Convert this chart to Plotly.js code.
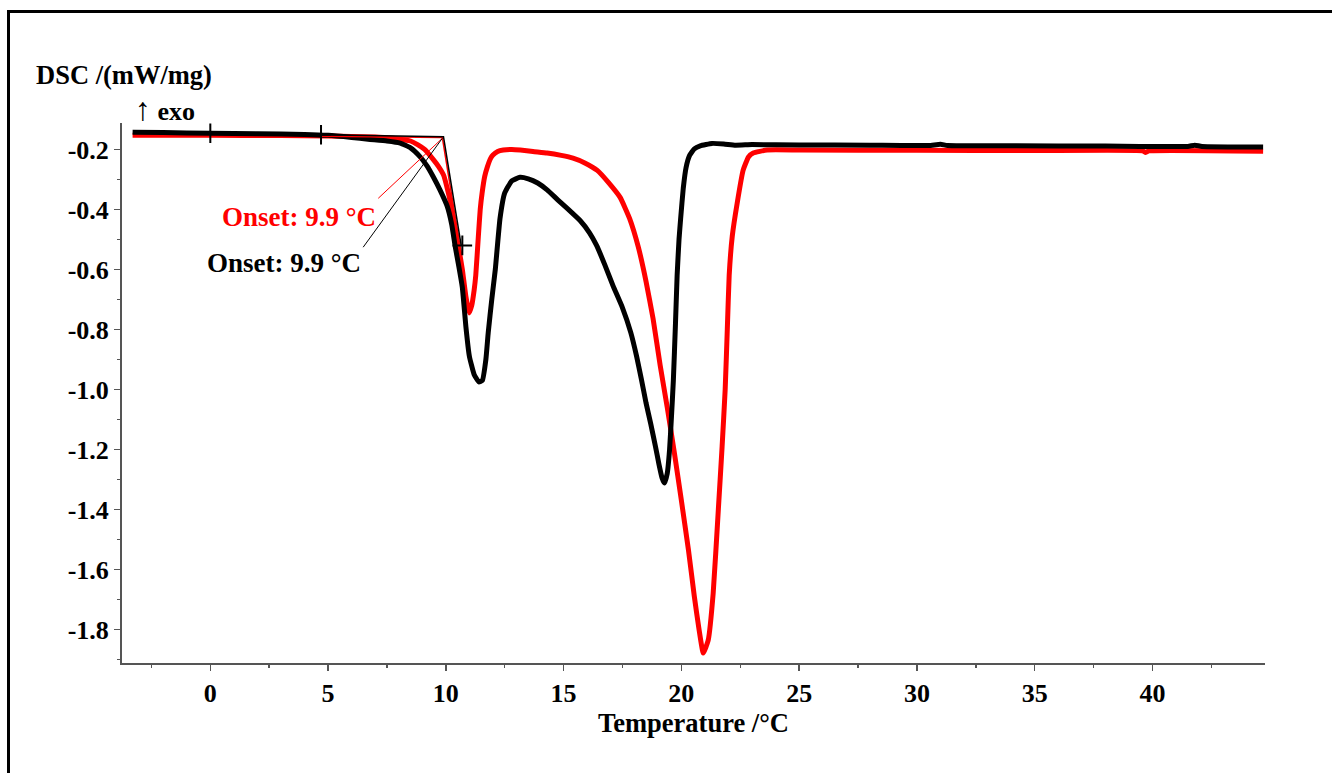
<!DOCTYPE html>
<html>
<head>
<meta charset="utf-8">
<script src="https://cdn.plot.ly/plotly-3.0.1.min.js"></script>
<style>
  html, body { margin: 0; padding: 0; background: #fff; }
  #chart { width: 1332px; height: 773px; }
  #frame { position: absolute; left: 7px; top: 10px; width: 1340px; height: 800px;
           border-top: 3px solid #000; border-left: 3px solid #000; pointer-events: none; }
</style>
</head>
<body>
<div id="chart"></div>
<div id="frame"></div>
<script>
// ---- Data ----
const blackX = [-3.3, -2, 0, 2, 4, 5, 6, 6.7, 7.5, 8.06, 8.5, 8.9, 9.2, 9.47, 9.75, 10.06, 10.25, 10.4, 10.55, 10.7, 10.85, 11.0, 11.2, 11.4, 11.55, 11.7, 11.8, 11.95, 12.1, 12.3, 12.5, 12.8, 13.15, 13.5, 13.9, 14.3, 14.75, 15.2, 15.7, 16.1, 16.4, 16.75, 17.1, 17.5, 17.85, 18.1, 18.3, 18.5, 18.7, 18.9, 19.05, 19.18, 19.28, 19.4, 19.5, 19.58, 19.66, 19.75, 19.82, 19.9, 19.97, 20.08, 20.2, 20.35, 20.55, 20.8, 21.3, 21.8, 22.3, 23, 25, 28, 30.5, 31.0, 31.3, 34, 38, 41.5, 41.8, 42.1, 44.7];
const blackY = [-0.143, -0.144, -0.146, -0.148, -0.150, -0.153, -0.160, -0.166, -0.172, -0.179, -0.195, -0.224, -0.255, -0.292, -0.335, -0.390, -0.450, -0.525, -0.590, -0.660, -0.790, -0.890, -0.950, -0.975, -0.970, -0.900, -0.810, -0.700, -0.600, -0.430, -0.345, -0.305, -0.293, -0.298, -0.312, -0.335, -0.368, -0.400, -0.437, -0.478, -0.520, -0.585, -0.655, -0.728, -0.810, -0.890, -0.965, -1.045, -1.115, -1.190, -1.250, -1.295, -1.312, -1.280, -1.200, -1.090, -0.970, -0.780, -0.620, -0.500, -0.430, -0.330, -0.260, -0.220, -0.198, -0.188, -0.180, -0.182, -0.186, -0.184, -0.185, -0.186, -0.187, -0.183, -0.187, -0.188, -0.189, -0.190, -0.186, -0.190, -0.192];

const redX = [-3.3, 0, 3, 5, 6, 7, 7.5, 8, 8.5, 8.8, 9.1, 9.47, 9.7, 9.9, 10.06, 10.2, 10.4, 10.55, 10.7, 10.85, 10.99, 11.1, 11.2, 11.27, 11.38, 11.46, 11.54, 11.65, 11.76, 11.9, 12.0, 12.2, 12.44, 12.8, 13.16, 13.7, 14.3, 14.9, 15.4, 15.9, 16.43, 16.9, 17.4, 17.8, 18.17, 18.5, 18.8, 19.1, 19.4, 19.7, 20.0, 20.3, 20.55, 20.75, 20.93, 21.14, 21.35, 21.56, 21.73, 21.86, 21.95, 22.03, 22.16, 22.37, 22.62, 22.85, 23.05, 23.64, 25, 30, 35, 39.6, 39.7, 39.85, 44.7];
const redY = [-0.153, -0.153, -0.154, -0.155, -0.157, -0.159, -0.161, -0.165, -0.172, -0.184, -0.200, -0.234, -0.258, -0.285, -0.330, -0.379, -0.469, -0.530, -0.600, -0.690, -0.745, -0.720, -0.670, -0.620, -0.490, -0.400, -0.345, -0.290, -0.259, -0.230, -0.219, -0.207, -0.202, -0.200, -0.202, -0.207, -0.212, -0.220, -0.229, -0.245, -0.270, -0.310, -0.360, -0.430, -0.525, -0.640, -0.765, -0.920, -1.060, -1.210, -1.370, -1.535, -1.690, -1.800, -1.879, -1.836, -1.680, -1.413, -1.190, -1.000, -0.800, -0.620, -0.490, -0.379, -0.270, -0.225, -0.212, -0.202, -0.202, -0.203, -0.204, -0.205, -0.210, -0.205, -0.206];

// Onset construction (baseline + inflection tangent)
const blackOnsetX = [4.7, 9.9, 10.65];
const blackOnsetY = [-0.151, -0.158, -0.520];
const redOnsetX = [4.7, 9.85, 10.55];
const redOnsetY = [-0.156, -0.160, -0.500];
const markX = [0, 4.7, 10.7];
const markY = [-0.146, -0.151, -0.520];

// Label connector lines
const redLeaderX = [7.13, 9.85];
const redLeaderY = [-0.363, -0.163];
const blackLeaderX = [6.49, 9.85];
const blackLeaderY = [-0.526, -0.163];

const onsetLabel = 'Onset: 9.9 °C';
const yTickVals = [-0.2, -0.4, -0.6, -0.8, -1.0, -1.2, -1.4, -1.6, -1.8];
const yTickText = ['-0.2', '-0.4', '-0.6', '-0.8', '-1.0', '-1.2', '-1.4', '-1.6', '-1.8'];
const yMinorVals = [-0.1, -0.3, -0.5, -0.7, -0.9, -1.1, -1.3, -1.5, -1.7, -1.9];

const FONT = 'Liberation Serif, Times New Roman, serif';
const axisGray = '#555555';

const traces = [
  {x: redX, y: redY, mode: 'lines', line: {color: '#ff0000', width: 5, shape: 'spline', smoothing: 0.4}, hoverinfo: 'skip'},
  {x: blackX, y: blackY, mode: 'lines', line: {color: '#000000', width: 5, shape: 'spline', smoothing: 0.4}, hoverinfo: 'skip'},
  {x: redOnsetX, y: redOnsetY, mode: 'lines', line: {color: '#ff0000', width: 1.5}, hoverinfo: 'skip'},
  {x: blackOnsetX, y: blackOnsetY, mode: 'lines', line: {color: '#000000', width: 1.5}, hoverinfo: 'skip'},
  {x: redLeaderX, y: redLeaderY, mode: 'lines', line: {color: '#ff0000', width: 1}, hoverinfo: 'skip'},
  {x: blackLeaderX, y: blackLeaderY, mode: 'lines', line: {color: '#000000', width: 1}, hoverinfo: 'skip'},
  {x: markX, y: markY, mode: 'markers', marker: {symbol: 'cross-thin', size: 14, line: {color: '#000', width: 2}}, hoverinfo: 'skip'}
];

const layout = {
  width: 1332, height: 773,
  margin: {l: 122, r: 67, t: 123, b: 110},
  paper_bgcolor: '#ffffff', plot_bgcolor: '#ffffff',
  showlegend: false,
  font: {family: FONT, size: 26, color: '#000'},
  xaxis: {
    range: [-3.75, 44.78], tickmode: 'linear', tick0: 0, dtick: 5,
    ticks: 'outside', ticklen: 6, tickwidth: 1.5, tickcolor: axisGray,
    minor: {dtick: 2.5, tick0: 0, ticks: 'outside', ticklen: 3, tickcolor: axisGray, tickwidth: 1.5},
    showline: true, linecolor: axisGray, linewidth: 2, showgrid: false, zeroline: false,
    tickfont: {family: FONT, size: 26, color: '#000', weight: 'bold'},
    title: {text: '<b>Temperature /°C</b>', font: {family: FONT, size: 26.5, color: '#000'}, standoff: 4}
  },
  yaxis: {
    range: [-1.912, -0.112], tickmode: 'array', tickvals: yTickVals, ticktext: yTickText,
    ticks: 'outside', ticklen: 6, tickwidth: 1.5, tickcolor: axisGray,
    minor: {tickmode: 'array', tickvals: yMinorVals, ticks: 'outside', ticklen: 3, tickcolor: axisGray, tickwidth: 1.5},
    showline: true, linecolor: axisGray, linewidth: 2, showgrid: false, zeroline: false,
    tickfont: {family: FONT, size: 26, color: '#000', weight: 'bold'}
  },
  annotations: [
    {xref: 'paper', yref: 'paper', x: 0, y: 1, xshift: -88, yshift: 48, xanchor: 'left', yanchor: 'middle',
     text: '<b>DSC /(mW/mg)</b>', showarrow: false, font: {family: FONT, size: 26.5, color: '#000'}},
    {xref: 'paper', yref: 'paper', x: 0, y: 1, xshift: 11, yshift: 14, xanchor: 'left', yanchor: 'middle',
     text: '<span style="font-size:32px">↑</span> <b>exo</b>', showarrow: false, font: {family: FONT, size: 26, color: '#000'}},
    {xref: 'x', yref: 'y', x: redLeaderX[0], y: -0.426, xanchor: 'right', yanchor: 'middle',
     text: '<b>' + onsetLabel + '</b>', showarrow: false, font: {family: FONT, size: 27, color: '#ff0000'}},
    {xref: 'x', yref: 'y', x: blackLeaderX[0], y: -0.579, xanchor: 'right', yanchor: 'middle',
     text: '<b>' + onsetLabel + '</b>', showarrow: false, font: {family: FONT, size: 27, color: '#000'}}
  ]
};

Plotly.newPlot('chart', traces, layout, {displayModeBar: false, staticPlot: true});
</script>
</body>
</html>
